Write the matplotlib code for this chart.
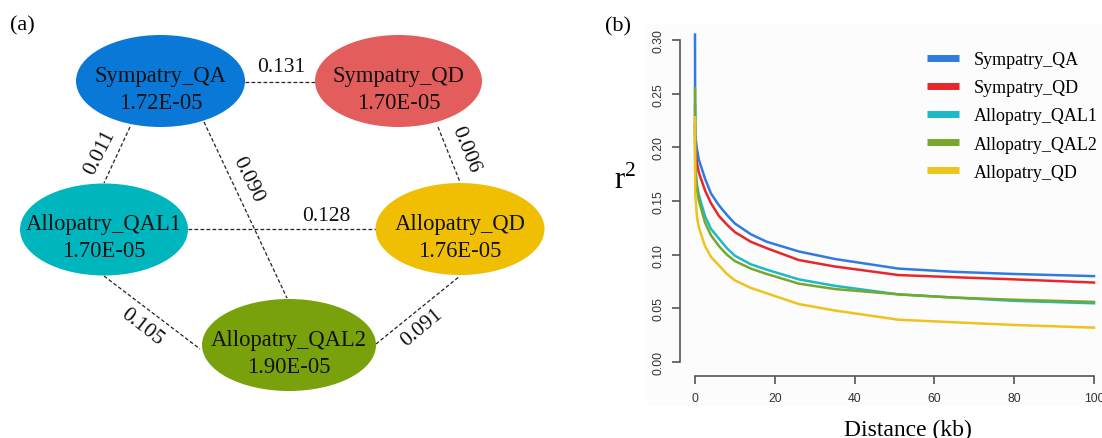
import numpy as np
import matplotlib
matplotlib.use('Agg')
from matplotlib import pyplot as plt
from matplotlib.patches import Ellipse, Rectangle

plt.rcParams['mathtext.fontset'] = 'custom'
plt.rcParams['mathtext.rm'] = 'Liberation Serif'

# panel (a): nodes and pairwise values
node_names = ['Sympatry_QA', 'Sympatry_QD', 'Allopatry_QAL1', 'Allopatry_QD', 'Allopatry_QAL2']
node_values = ['1.72E-05', '1.70E-05', '1.70E-05', '1.76E-05', '1.90E-05']
node_colors = ['#0a78d6', '#e25d5c', '#00b6be', '#f0bf04', '#79a10c']
edge_pairs = [(0, 1), (0, 2), (0, 4), (1, 3), (2, 3), (2, 4), (4, 3)]
edge_values = ['0.131', '0.011', '0.090', '0.006', '0.128', '0.105', '0.091']

# panel (b): LD decay
dist = [0, 0.05, 0.5, 1, 2.5, 4, 6, 8, 10, 14, 18, 26, 35, 51, 65, 80, 100]
r2_sym_qa = [0.305, 0.212, 0.198, 0.188, 0.171, 0.157, 0.146, 0.137, 0.129, 0.119, 0.112,
             0.103, 0.096, 0.087, 0.084, 0.082, 0.080]
r2_sym_qd = [0.220, 0.202, 0.185, 0.176, 0.160, 0.148, 0.136, 0.128, 0.121, 0.112, 0.106,
             0.095, 0.089, 0.081, 0.079, 0.077, 0.074]
r2_allo_qal1 = [0.240, 0.183, 0.165, 0.155, 0.136, 0.124, 0.115, 0.106, 0.099, 0.091, 0.086,
                0.077, 0.071, 0.063, 0.060, 0.057, 0.0547]
r2_allo_qal2 = [0.255, 0.180, 0.160, 0.150, 0.130, 0.118, 0.108, 0.100, 0.094, 0.087, 0.082,
                0.073, 0.068, 0.063, 0.060, 0.058, 0.056]
r2_allo_qd = [0.228, 0.158, 0.135, 0.125, 0.108, 0.098, 0.090, 0.082, 0.076, 0.069, 0.064,
              0.054, 0.048, 0.0394, 0.037, 0.0345, 0.032]
series_names = ['Sympatry_QA', 'Sympatry_QD', 'Allopatry_QAL1', 'Allopatry_QAL2', 'Allopatry_QD']
series_colors = ['#2f7be0', '#e8272b', '#1cb9c9', '#77a82a', '#efc21c']

# layout (pixels)
node_xy = [(160.5, 82), (398.5, 82), (104, 230.5), (460, 230), (289, 346)]
node_w = [169, 167, 168, 169, 174]
node_h = 92
edge_ends = [((245, 83), (315, 83)), ((130, 128), (104, 184)), ((204, 123), (287, 299)),
             ((438, 128), (460, 183)), ((188, 230), (376, 230)), ((104, 277), (200, 350)),
             ((376, 345), (460, 277))]
edge_lab = [((281, 67), 0), ((100, 153), 63), ((248, 180), -64), ((465, 150), -68),
            ((326, 217), 0), ((142, 327), -38), ((422, 328), 40)]

serif = ['Liberation Serif', 'DejaVu Serif']
sans = ['Liberation Sans', 'DejaVu Sans']

W, H = 1102, 439
fig = plt.figure(figsize=(W / 100, H / 100), dpi=100)
bg = fig.add_axes([0, 0, 1, 1])
bg.set_xlim(0, W)
bg.set_ylim(H, 0)
bg.axis('off')

bg.add_patch(Rectangle((647, 25), 455, 382, facecolor='#fcfcfc', edgecolor='none', zorder=0))

for (p0, p1) in edge_ends:
    bg.plot([p0[0], p1[0]], [p0[1], p1[1]], color='#222222', lw=0.9, dashes=(3, 1.8), zorder=1)
for val, ((lx, ly), rot) in zip(edge_values, edge_lab):
    bg.text(lx, ly, val, ha='center', va='center', rotation=rot, fontsize=15.5,
            family=serif, color='#111111', rotation_mode='anchor')

for name, val, col, (cx, cy), w in zip(node_names, node_values, node_colors, node_xy, node_w):
    bg.add_patch(Ellipse((cx, cy), w, node_h, facecolor=col, edgecolor='none', zorder=2))
    bg.text(cx, cy, name, ha='center', va='baseline', fontsize=16.3, family=serif,
            color='#111111', zorder=3)
    bg.text(cx, cy + 27, val, ha='center', va='baseline', fontsize=16.3, family=serif,
            color='#111111', zorder=3)

bg.text(10, 26, '(a)', ha='left', va='center', fontsize=16, family=serif)
bg.text(605, 27, '(b)', ha='left', va='center', fontsize=16, family=serif)

# panel (b)
L, R, T, B = 680, 1100, 30, 377
ax = fig.add_axes([L / W, (H - B) / H, (R - L) / W, (B - T) / H])
ax.patch.set_alpha(0)
px_x = (1094 - 695) / 100.0
px_y = (363 - 41) / 0.30
ax.set_xlim((L - 695) / px_x, (R - 695) / px_x)
ax.set_ylim((363 - B) / px_y, (363 - T) / px_y)

all_r2 = [r2_sym_qa, r2_sym_qd, r2_allo_qal1, r2_allo_qal2, r2_allo_qd]
for name, col, r2 in zip(series_names, series_colors, all_r2):
    ax.plot(dist, r2, color=col, lw=1.8, label=name, solid_joinstyle='round')

for s in ['top', 'right']:
    ax.spines[s].set_visible(False)
ax.spines['left'].set_bounds(0, 0.30)
ax.spines['bottom'].set_bounds(0, 100)
for s in ['left', 'bottom']:
    ax.spines[s].set_color('#555555')
    ax.spines[s].set_linewidth(1.2)
ax.set_yticks([0, 0.05, 0.10, 0.15, 0.20, 0.25, 0.30])
ax.set_yticklabels(['0.00', '0.05', '0.10', '0.15', '0.20', '0.25', '0.30'],
                   rotation=90, va='center', family=sans)
ax.set_xticks([0, 20, 40, 60, 80, 100])
ax.set_xticklabels(['0', '20', '40', '60', '80', '100'], family=sans)
ax.tick_params(axis='both', length=5.5, width=1.2, color='#555555', labelsize=8.8,
               labelcolor='#333333', pad=6)

fig.text(625 / W, 1 - 180 / H, r'$\mathrm{r}^{2}$', ha='center', va='center', fontsize=22)
fig.text(908 / W, 1 - 430 / H, 'Distance (kb)', ha='center', va='center', fontsize=17,
         family=serif)

leg = ax.legend(loc='upper left', bbox_to_anchor=(927 / W, 1 - 52 / H),
                bbox_transform=fig.transFigure, frameon=False, prop={'family': serif, 'size': 13},
                handlelength=1.75, handletextpad=0.85, labelspacing=0.62, borderaxespad=0,
                borderpad=0)
for h in leg.get_lines():
    h.set_linewidth(5)
    h.set_solid_capstyle('butt')

fig.savefig('out.png', dpi=100)
